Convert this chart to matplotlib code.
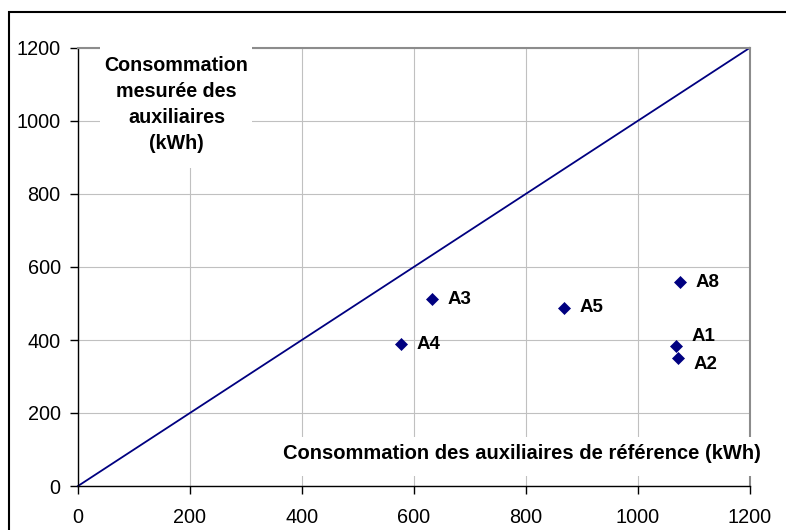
import matplotlib
matplotlib.use("Agg")
import matplotlib.pyplot as plt
from matplotlib.patches import Rectangle

plt.rcParams['font.family'] = ['Liberation Sans', 'DejaVu Sans']

# Data
names = ["A1", "A2", "A3", "A4", "A5", "A8"]
ref_kwh = [1068, 1072, 632, 577, 868, 1075]
mes_kwh = [383, 351, 512, 389, 489, 558]
label_dy = [7, -5, 0, 0, 0, 0]
diag = [0, 1200]
ticks = [0, 200, 400, 600, 800, 1000, 1200]
xlabel = "Consommation des auxiliaires de référence (kWh)"
ylabel = "Consommation\nmesurée des\nauxiliaires\n(kWh)"

navy = "#000080"

fig = plt.figure(figsize=(7.86, 5.30), dpi=100)
ax = fig.add_axes([78/786, 1-486/530, (749.5-78)/786, (486-48)/530])

ax.set_xlim(0, 1200)
ax.set_ylim(0, 1200)
ax.set_xticks(ticks)
ax.set_yticks(ticks)
ax.set_axisbelow(True)
ax.grid(True, color="#c0c0c0", linewidth=0.8)

ax.plot(diag, diag, color=navy, linewidth=1.3, zorder=2, clip_on=False)
ax.plot(ref_kwh, mes_kwh, linestyle="none", marker="D", markersize=6.2,
        color=navy, markeredgewidth=0.5, zorder=3)

for n, x, y, dy in zip(names, ref_kwh, mes_kwh, label_dy):
    ax.annotate(n, (x, y), xytext=(11.5, dy), textcoords="offset points",
                ha="left", va="center", fontsize=13.5, fontweight="bold", zorder=4)

for s in ("top", "right"):
    ax.spines[s].set_color("#8c8c8c")
    ax.spines[s].set_linewidth(1.5)
for s in ("left", "bottom"):
    ax.spines[s].set_color("black")
    ax.spines[s].set_linewidth(1.0)

ax.tick_params(axis="both", direction="out", length=5.5, width=1.0,
               labelsize=14.3, color="black")
ax.tick_params(axis="x", pad=10.5)
ax.tick_params(axis="y", pad=7)

# White label boxes inside the plot
ax.add_patch(Rectangle((39, 872), 272, 352, facecolor="white", edgecolor="none",
                       zorder=2.6, clip_on=False))
ax.add_patch(Rectangle((357, 27), 880, 107, facecolor="white", edgecolor="none",
                       zorder=2.6, clip_on=False))

ax.text(176, 1045, ylabel, ha="center", va="center", fontsize=14.2,
        fontweight="bold", linespacing=1.45, zorder=3)
ax.text(793, 90, xlabel, ha="center", va="center", fontsize=14.5,
        fontweight="bold", zorder=3, clip_on=False)

# Outer frame (cropped chart area border)
fig.patches.append(Rectangle((9/786, -0.1), 1.2, 1.1 - 12/530,
                             transform=fig.transFigure, fill=False,
                             edgecolor="black", linewidth=1.5))

fig.savefig("out.png", dpi=100)
